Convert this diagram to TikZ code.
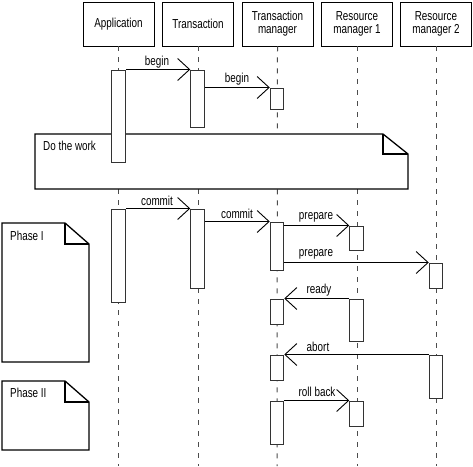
\documentclass[tikz,border=0pt]{standalone}
\usepackage{fontspec}
\setmainfont{Liberation Sans}[FakeStretch=0.76]
\usetikzlibrary{arrows.meta}
\begin{document}
\begin{tikzpicture}[x=1pt,y=-1pt,
  every node/.style={font=\fontsize{13}{13}\selectfont},
  head/.style={draw, line width=0.9pt, fill=white, minimum width=71pt, minimum height=44pt, inner sep=0pt, align=center},
  life/.style={black!70, line width=1pt, dash pattern=on 5pt off 6pt},
  act/.style={draw=black!80, line width=1pt, fill=white, minimum width=13.5pt, inner sep=0pt},
  msg/.style={line width=0.9pt, -{Straight Barb[length=12pt,width=22pt,line width=0.9pt]}},
  note/.style={draw, line width=1.3pt, fill=white, line join=miter},
  lbl/.style={inner sep=0pt},
  ntxt/.style={inner sep=0pt, anchor=west}]
\useasboundingbox (0,0) rectangle (473,466);
% headers
\node[head] (app) at (118.5,24) {Application};
\node[head] (tr)  at (198,24) {Transaction};
\node[head] (tm)  at (277.5,24) {Transaction\\manager};
\node[head] (rm1) at (357,24) {Resource\\manager 1};
\node[head] (rm2) at (436,24) {Resource\\manager 2};
% lifelines
\coordinate (appE) at (118.5,466);
\coordinate (trE) at (198,466);
\coordinate (tmE) at (277,466);
\coordinate (rm1E) at (357,466);
\coordinate (rm2E) at (436,466);
\draw[life] (app.south) -- (appE);
\draw[life] (tr.south) -- (trE);
\draw[life] (tm.south) -- (tmE);
\draw[life] (rm1.south) -- (rm1E);
\draw[life] (rm2.south) -- (rm2E);
% Do the work note
\draw[note] (35,134) -- (383,134) -- (408,154) -- (408,189) -- (35,189) -- cycle;
\draw[line width=1.3pt] (383,134) -- (383,154) -- (408,154);
\node[ntxt] (dow) at (43,146) {Do the work};
% Phase I note
\draw[note] (2,223) -- (65,223) -- (89,244) -- (89,362) -- (2,362) -- cycle;
\draw[line width=1.3pt] (65,223) -- (65,244) -- (89,244);
\node[ntxt] (ph1) at (10,236) {Phase I};
% Phase II note
\draw[note] (2,381) -- (65,381) -- (89,402) -- (89,450) -- (2,450) -- cycle;
\draw[line width=1.3pt] (65,381) -- (65,402) -- (89,402);
\node[ntxt] (ph2) at (10,393) {Phase II};
% activations
\node[act, minimum height=92pt] (appA) at (118.5,116) {};
\node[act, minimum height=57pt] (trA) at (197.5,98.5) {};
\node[act, minimum height=21pt] (tmA) at (277,98.5) {};
\node[act, minimum height=93pt] (appB) at (118.5,255.5) {};
\node[act, minimum height=79pt] (trB) at (197.5,248.5) {};
\node[act, minimum height=48pt] (tmB) at (277,246) {};
\node[act, minimum height=24pt] (rm1A) at (356.5,238) {};
\node[act, minimum height=25pt] (rm2A) at (436,275.5) {};
\node[act, minimum height=25pt] (tmC) at (277,311.5) {};
\node[act, minimum height=42pt] (rm1B) at (356.5,320) {};
\node[act, minimum height=25pt] (tmD) at (277,367.5) {};
\node[act, minimum height=43pt] (rm2B) at (436,376.5) {};
\node[act, minimum height=43pt] (tmE2) at (277,422.5) {};
\node[act, minimum height=25pt] (rm1C) at (356.5,413.5) {};
% messages
\draw[msg] (appA.north east) -- (trA.north west);
\node[lbl] (l1) at (157,62) {begin};
\draw[msg] (trA.east |- tmA.north) -- (tmA.north west);
\node[lbl] (l2) at (237,79) {begin};
\draw[msg] (appB.north east) -- (trB.north west);
\node[lbl] (l3) at (157,201) {commit};
\draw[msg] (trB.east |- tmB.north) -- (tmB.north west);
\node[lbl] (l4) at (237,214) {commit};
\draw[msg] (tmB.east |- rm1A.north) -- (rm1A.north west);
\node[lbl] (l5) at (316,217) {prepare};
\draw[msg] (tmB.east |- rm2A.north) -- (rm2A.north west);
\node[lbl] (l6) at (316,254) {prepare};
\draw[msg] (rm1B.north west) -- (tmC.north east);
\node[lbl] (l7) at (319,290) {ready};
\draw[msg] (rm2B.north west) -- (tmD.north east);
\node[lbl] (l8) at (318,347) {abort};
\draw[msg] (tmE2.north east) -- (rm1C.north west);
\node[lbl] (l9) at (317,392) {roll back};
\end{tikzpicture}
\end{document}
